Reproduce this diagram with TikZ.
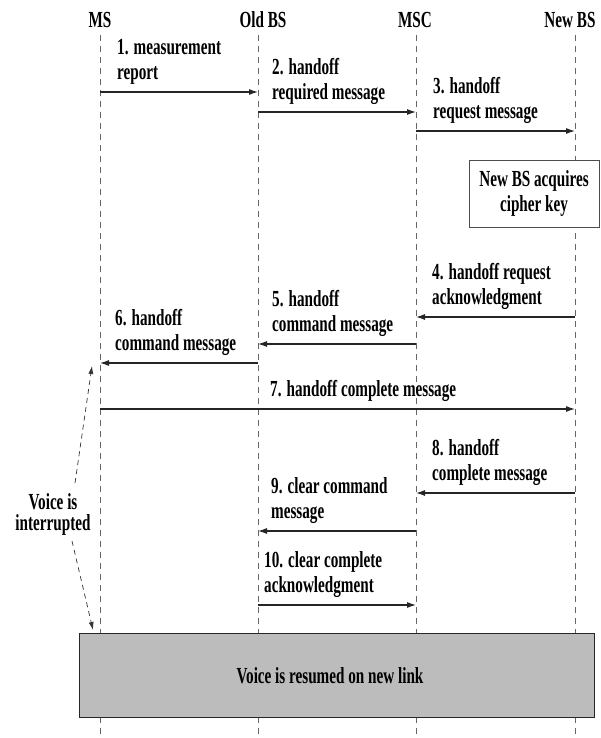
\documentclass[tikz,border=0pt]{standalone}
\usepackage{fontspec}
\setmainfont{Liberation Serif}[FakeStretch=0.66]
\usetikzlibrary{positioning, arrows.meta}
\definecolor{resumegray}{RGB}{188, 188, 188}

\begin{document}
\begin{tikzpicture}[x=1pt, y=-1pt,
        lifeline/.style={draw=black!60, line width=0.5pt, dash pattern=on 6pt off 5pt},
        header/.style={inner sep=0pt, font=\fontsize{23}{25}\selectfont\bfseries},
        msg/.style={draw=black!85, line width=1.1pt, -{Latex[length=9pt, width=6pt]}},
        msglabel/.style={anchor=south west, align=left, inner sep=0pt,
                         font=\fontsize{23}{25}\selectfont\bfseries},
        voicearrow/.style={draw=black!80, line width=0.7pt, dash pattern=on 5pt off 4pt,
                           -{Latex[length=8pt, width=5pt]}}]
    \useasboundingbox (0,0) rectangle (601,738);

    % entities and their lifelines
    \node[header] (hms) at (100,20) {MS};
    \node[header] (holdbs) at (263,20) {Old BS};
    \node[header] (hmsc) at (415,20) {MSC};
    \node[header] (hnewbs) at (570,20) {New BS};
    \coordinate (ms) at (100,35);
    \coordinate (oldbs) at (258,35);
    \coordinate (msc) at (416,35);
    \coordinate (newbs) at (575,35);
    \coordinate (msend) at (100,738);
    \coordinate (oldbsend) at (258,738);
    \coordinate (mscend) at (416,738);
    \coordinate (newbsend) at (575,738);
    \draw[lifeline] (ms) -- (msend);
    \draw[lifeline] (oldbs) -- (oldbsend);
    \draw[lifeline] (msc) -- (mscend);
    \draw[lifeline] (newbs) -- (newbsend);

    % messages
    \coordinate (m1s) at (ms |- 0,92);
    \coordinate (m1e) at (oldbs |- 0,92);
    \draw[msg] (m1s) -- (m1e);
    \node[msglabel] (l1) at ([xshift=17pt, yshift=7pt]m1s) {1. measurement\\report};

    \coordinate (m2s) at (oldbs |- 0,112);
    \coordinate (m2e) at (msc |- 0,112);
    \draw[msg] (m2s) -- (m2e);
    \node[msglabel] (l2) at ([xshift=14pt, yshift=7pt]m2s) {2. handoff\\required message};

    \coordinate (m3s) at (msc |- 0,131);
    \coordinate (m3e) at (newbs |- 0,131);
    \draw[msg] (m3s) -- (m3e);
    \node[msglabel] (l3) at ([xshift=17pt, yshift=7pt]m3s) {3. handoff\\request message};

    \node[draw=black!70, line width=0.6pt, fill=white, minimum width=130pt, minimum height=67pt,
          align=center, font=\fontsize{23}{25}\selectfont\bfseries] (cipher) at (534,193.5)
          {New BS acquires\\cipher key};

    \coordinate (m4s) at (newbs |- 0,317);
    \coordinate (m4e) at (msc |- 0,317);
    \draw[msg] (m4s) -- (m4e);
    \node[msglabel] (l4) at ([xshift=16pt, yshift=7pt]m4e) {4. handoff request\\acknowledgment};

    \coordinate (m5s) at (msc |- 0,344);
    \coordinate (m5e) at (oldbs |- 0,344);
    \draw[msg] (m5s) -- (m5e);
    \node[msglabel] (l5) at ([xshift=14pt, yshift=7pt]m5e) {5. handoff\\command message};

    \coordinate (m6s) at (oldbs |- 0,363);
    \coordinate (m6e) at (ms |- 0,363);
    \draw[msg] (m6s) -- (m6e);
    \node[msglabel] (l6) at ([xshift=15pt, yshift=7pt]m6e) {6. handoff\\command message};

    \coordinate (m7s) at (ms |- 0,409);
    \coordinate (m7e) at (newbs |- 0,409);
    \draw[msg] (m7s) -- (m7e);
    \node[msglabel] (l7) at ([xshift=170pt, yshift=7pt]m7s) {7. handoff complete message};

    \coordinate (m8s) at (newbs |- 0,493);
    \coordinate (m8e) at (msc |- 0,493);
    \draw[msg] (m8s) -- (m8e);
    \node[msglabel] (l8) at ([xshift=16pt, yshift=7pt]m8e) {8. handoff\\complete message};

    \coordinate (m9s) at (msc |- 0,531);
    \coordinate (m9e) at (oldbs |- 0,531);
    \draw[msg] (m9s) -- (m9e);
    \node[msglabel] (l9) at ([xshift=13pt, yshift=7pt]m9e) {9. clear command\\message};

    \coordinate (m10s) at (oldbs |- 0,605);
    \coordinate (m10e) at (msc |- 0,605);
    \draw[msg] (m10s) -- (m10e);
    \node[msglabel] (l10) at ([xshift=6pt, yshift=7pt]m10s) {10. clear complete\\acknowledgment};

    % voice interruption
    \node[align=center, inner sep=0pt, font=\fontsize{23}{21}\selectfont\bfseries] (interrupt)
          at (53,514) {Voice is\\interrupted};
    \coordinate (gapup) at (75,483);
    \coordinate (stopup) at (92,366);
    \coordinate (gapdown) at (72,541);
    \coordinate (stopdown) at (93,630);
    \draw[voicearrow] (gapup) -- (stopup);
    \draw[voicearrow] (gapdown) -- (stopdown);

    \node[draw=black!85, line width=1.2pt, fill=resumegray, minimum width=515pt, minimum height=84pt,
          font=\fontsize{23}{25}\selectfont\bfseries] (resume) at (337,675.5)
          {Voice is resumed on new link\hspace*{14pt}};
\end{tikzpicture}
\end{document}
